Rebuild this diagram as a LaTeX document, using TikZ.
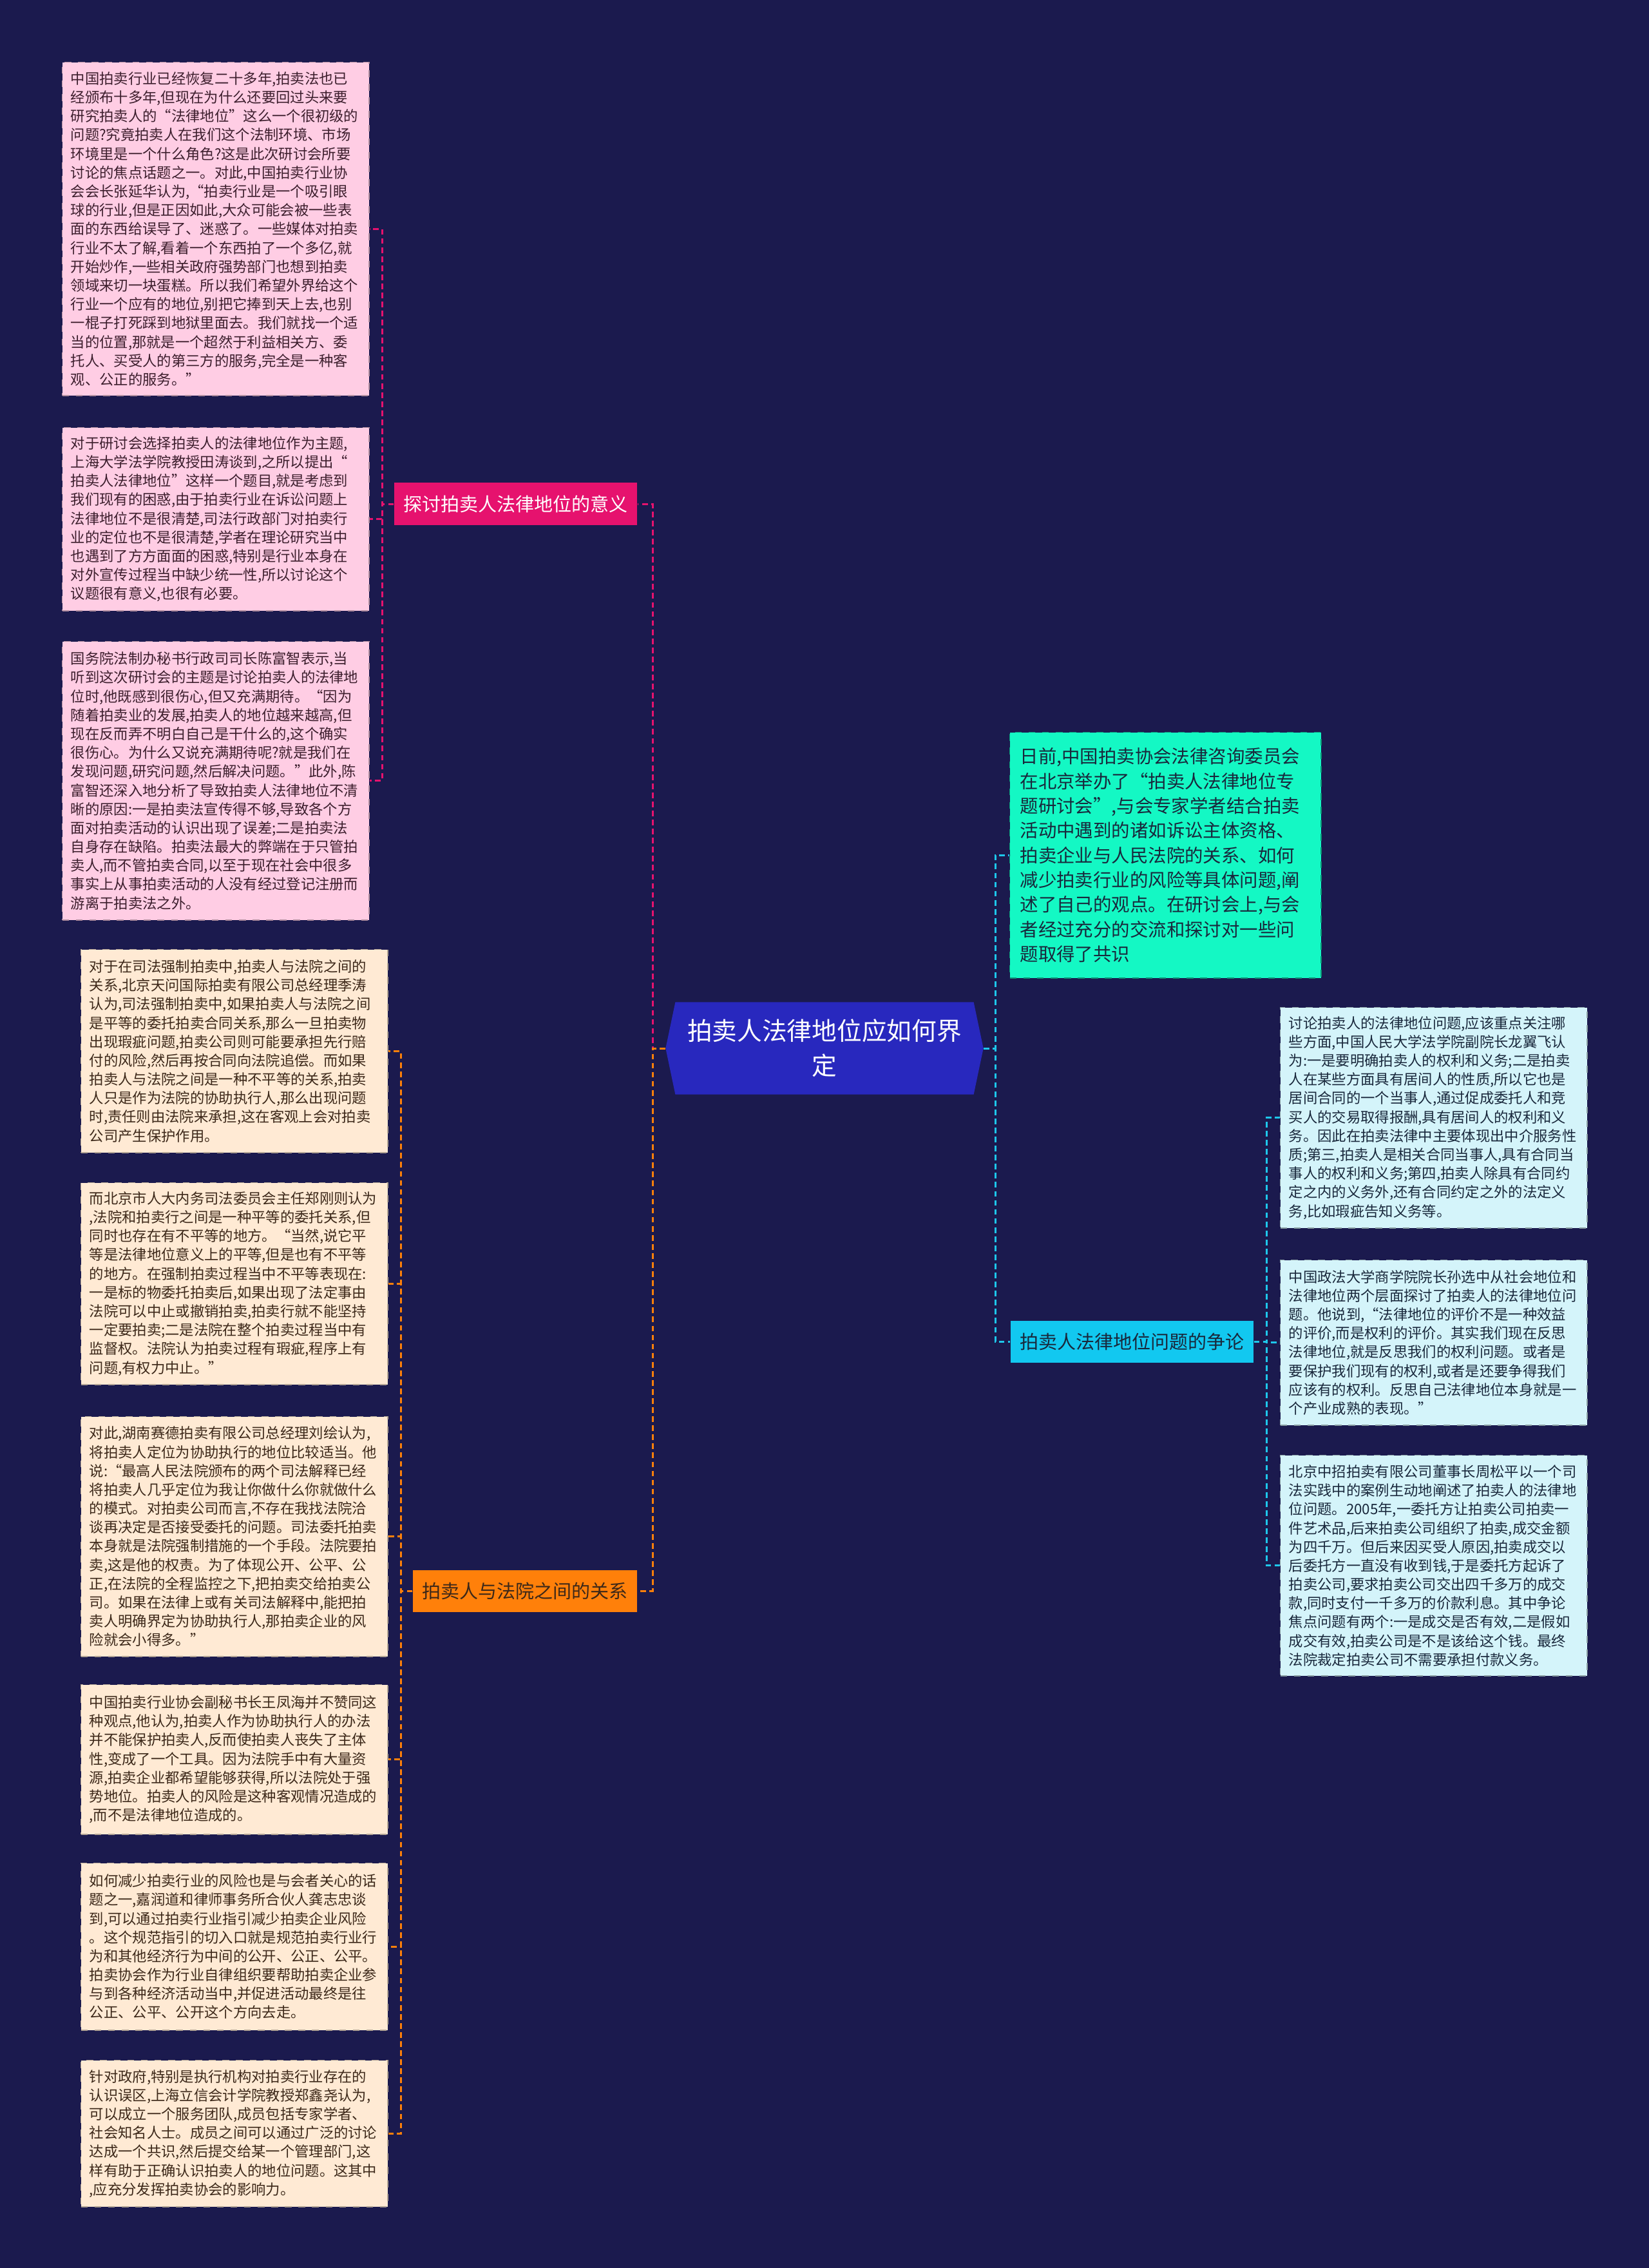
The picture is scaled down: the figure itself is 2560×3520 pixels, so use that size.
\documentclass[tikz,border=0pt]{standalone}
\usepackage{fontspec}
\setmainfont{Noto Sans CJK SC}
\usetikzlibrary{positioning, calc}
\definecolor{bgNavy}{RGB}{27,26,78}
\definecolor{rootBlue}{RGB}{40,40,190}
\definecolor{pinkHead}{RGB}{230,18,110}
\definecolor{pinkFill}{RGB}{255,205,228}
\definecolor{orangeHead}{RGB}{255,128,10}
\definecolor{orangeFill}{RGB}{255,234,212}
\definecolor{newsFill}{RGB}{20,248,196}
\definecolor{cyanHead}{RGB}{18,200,240}
\definecolor{cyanFill}{RGB}{212,244,250}
\definecolor{cyanLine}{RGB}{30,200,235}
\definecolor{inkPink}{RGB}{60,30,45}
\definecolor{inkBrown}{RGB}{60,40,25}
\definecolor{inkBlue}{RGB}{25,40,60}

\begin{document}
\begin{tikzpicture}[x=0.01cm, y=-0.01cm,
  leaf/.style={dashed, line width=0.4pt, anchor=north west, text width=4.5cm,
    inner xsep=0.13cm, inner ysep=0pt, align=left, font=\fontsize{6.35}{8.3}\selectfont},
  pinkbox/.style={leaf, fill=pinkFill, draw=pinkFill!70!black, text=inkPink},
  orangebox/.style={leaf, fill=orangeFill, draw=orangeFill!70!black, text=inkBrown},
  cyanbox/.style={leaf, fill=cyanFill, draw=cyanFill!65!black, text=inkBlue},
  topic/.style={minimum height=0.65cm, inner xsep=0.145cm, inner ysep=0pt,
    font=\fontsize{8.25}{10}\selectfont},
  root/.style={minimum width=4.93cm, minimum height=1.43cm, align=center, text=white,
    fill=bgNavy, font=\fontsize{11}{15.4}\selectfont,
    path picture={\fill[rootBlue] (path picture bounding box.west)
      -- ([xshift=0.15cm]path picture bounding box.north west)
      -- ([xshift=-0.15cm]path picture bounding box.north east)
      -- (path picture bounding box.east)
      -- ([xshift=-0.15cm]path picture bounding box.south east)
      -- ([xshift=0.15cm]path picture bounding box.south west) -- cycle;}},
  link/.style={dash pattern=on 2.5pt off 1.5pt, line width=0.85pt}]

  \fill[bgNavy] (0,0) rectangle (2560,3520);
  \useasboundingbox (0,0) rectangle (2560,3520);

  % centre
  \node[root] (root) at (1280,1627) {拍卖人法律地位应如何界\\定};

  % left, upper branch
  \node[topic, fill=pinkHead, text=white, anchor=east] (pinktopic) at (990,782) {探讨拍卖人法律地位的意义};
  \node[pinkbox, minimum height=5.17cm] (p1) at (96,96) {中国拍卖行业已经恢复二十多年,拍卖法也已\\
经颁布十多年,但现在为什么还要回过头来要\\
研究拍卖人的“法律地位”这么一个很初级的\\
问题?究竟拍卖人在我们这个法制环境、市场\\
环境里是一个什么角色?这是此次研讨会所要\\
讨论的焦点话题之一。对此,中国拍卖行业协\\
会会长张延华认为,“拍卖行业是一个吸引眼\\
球的行业,但是正因如此,大众可能会被一些表\\
面的东西给误导了、迷惑了。一些媒体对拍卖\\
行业不太了解,看着一个东西拍了一个多亿,就\\
开始炒作,一些相关政府强势部门也想到拍卖\\
领域来切一块蛋糕。所以我们希望外界给这个\\
行业一个应有的地位,别把它捧到天上去,也别\\
一棍子打死踩到地狱里面去。我们就找一个适\\
当的位置,那就是一个超然于利益相关方、委\\
托人、买受人的第三方的服务,完全是一种客\\
观、公正的服务。”};
  \node[pinkbox, minimum height=2.84cm] (p2) at (96,663) {对于研讨会选择拍卖人的法律地位作为主题,\\
上海大学法学院教授田涛谈到,之所以提出“\\
拍卖人法律地位”这样一个题目,就是考虑到\\
我们现有的困惑,由于拍卖行业在诉讼问题上\\
法律地位不是很清楚,司法行政部门对拍卖行\\
业的定位也不是很清楚,学者在理论研究当中\\
也遇到了方方面面的困惑,特别是行业本身在\\
对外宣传过程当中缺少统一性,所以讨论这个\\
议题很有意义,也很有必要。};
  \node[pinkbox, minimum height=4.32cm] (p3) at (96,995) {国务院法制办秘书行政司司长陈富智表示,当\\
听到这次研讨会的主题是讨论拍卖人的法律地\\
位时,他既感到很伤心,但又充满期待。“因为\\
随着拍卖业的发展,拍卖人的地位越来越高,但\\
现在反而弄不明白自己是干什么的,这个确实\\
很伤心。为什么又说充满期待呢?就是我们在\\
发现问题,研究问题,然后解决问题。”此外,陈\\
富智还深入地分析了导致拍卖人法律地位不清\\
晰的原因:一是拍卖法宣传得不够,导致各个方\\
面对拍卖活动的认识出现了误差;二是拍卖法\\
自身存在缺陷。拍卖法最大的弊端在于只管拍\\
卖人,而不管拍卖合同,以至于现在社会中很多\\
事实上从事拍卖活动的人没有经过登记注册而\\
游离于拍卖法之外。};

  % left, lower branch
  \node[topic, fill=orangeHead, text=inkBrown, anchor=east] (orangetopic) at (990,2469) {拍卖人与法院之间的关系};
  \node[orangebox, minimum height=3.15cm] (o1) at (125,1473) {对于在司法强制拍卖中,拍卖人与法院之间的\\
关系,北京天问国际拍卖有限公司总经理季涛\\
认为,司法强制拍卖中,如果拍卖人与法院之间\\
是平等的委托拍卖合同关系,那么一旦拍卖物\\
出现瑕疵问题,拍卖公司则可能要承担先行赔\\
付的风险,然后再按合同向法院追偿。而如果\\
拍卖人与法院之间是一种不平等的关系,拍卖\\
人只是作为法院的协助执行人,那么出现问题\\
时,责任则由法院来承担,这在客观上会对拍卖\\
公司产生保护作用。};
  \node[orangebox, minimum height=3.13cm] (o2) at (125,1835) {而北京市人大内务司法委员会主任郑刚则认为\\
,法院和拍卖行之间是一种平等的委托关系,但\\
同时也存在有不平等的地方。“当然,说它平\\
等是法律地位意义上的平等,但是也有不平等\\
的地方。在强制拍卖过程当中不平等表现在:\\
一是标的物委托拍卖后,如果出现了法定事由\\
法院可以中止或撤销拍卖,拍卖行就不能坚持\\
一定要拍卖;二是法院在整个拍卖过程当中有\\
监督权。法院认为拍卖过程有瑕疵,程序上有\\
问题,有权力中止。”};
  \node[orangebox, minimum height=3.72cm] (o3) at (125,2198) {对此,湖南赛德拍卖有限公司总经理刘绘认为,\\
将拍卖人定位为协助执行的地位比较适当。他\\
说:“最高人民法院颁布的两个司法解释已经\\
将拍卖人几乎定位为我让你做什么你就做什么\\
的模式。对拍卖公司而言,不存在我找法院洽\\
谈再决定是否接受委托的问题。司法委托拍卖\\
本身就是法院强制措施的一个手段。法院要拍\\
卖,这是他的权责。为了体现公开、公平、公\\
正,在法院的全程监控之下,把拍卖交给拍卖公\\
司。如果在法律上或有关司法解释中,能把拍\\
卖人明确界定为协助执行人,那拍卖企业的风\\
险就会小得多。”};
  \node[orangebox, minimum height=2.32cm] (o4) at (125,2614) {中国拍卖行业协会副秘书长王凤海并不赞同这\\
种观点,他认为,拍卖人作为协助执行人的办法\\
并不能保护拍卖人,反而使拍卖人丧失了主体\\
性,变成了一个工具。因为法院手中有大量资\\
源,拍卖企业都希望能够获得,所以法院处于强\\
势地位。拍卖人的风险是这种客观情况造成的\\
,而不是法律地位造成的。};
  \node[orangebox, minimum height=2.59cm] (o5) at (125,2891) {如何减少拍卖行业的风险也是与会者关心的话\\
题之一,嘉润道和律师事务所合伙人龚志忠谈\\
到,可以通过拍卖行业指引减少拍卖企业风险\\
。这个规范指引的切入口就是规范拍卖行业行\\
为和其他经济行为中间的公开、公正、公平。\\
拍卖协会作为行业自律组织要帮助拍卖企业参\\
与到各种经济活动当中,并促进活动最终是往\\
公正、公平、公开这个方向去走。};
  \node[orangebox, minimum height=2.27cm] (o6) at (125,3197) {针对政府,特别是执行机构对拍卖行业存在的\\
认识误区,上海立信会计学院教授郑鑫尧认为,\\
可以成立一个服务团队,成员包括专家学者、\\
社会知名人士。成员之间可以通过广泛的讨论\\
达成一个共识,然后提交给某一个管理部门,这\\
样有助于正确认识拍卖人的地位问题。这其中\\
,应充分发挥拍卖协会的影响力。};

  % right side
  \node[leaf, fill=newsFill, draw=newsFill!60!black, text=inkBlue, text width=4.51cm,
        inner xsep=0.16cm, minimum height=3.81cm, font=\fontsize{8.08}{10.9}\selectfont] (news) at (1567,1136) {日前,中国拍卖协会法律咨询委员会\\
在北京举办了“拍卖人法律地位专\\
题研讨会”,与会专家学者结合拍卖\\
活动中遇到的诸如诉讼主体资格、\\
拍卖企业与人民法院的关系、如何\\
减少拍卖行业的风险等具体问题,阐\\
述了自己的观点。在研讨会上,与会\\
者经过充分的交流和探讨对一些问\\
题取得了共识};
  \node[topic, fill=cyanHead, text=inkBlue, anchor=west] (disputetopic) at (1568,2082) {拍卖人法律地位问题的争论};
  \node[cyanbox, minimum height=3.42cm] (r1) at (1987,1563) {讨论拍卖人的法律地位问题,应该重点关注哪\\
些方面,中国人民大学法学院副院长龙翼飞认\\
为:一是要明确拍卖人的权利和义务;二是拍卖\\
人在某些方面具有居间人的性质,所以它也是\\
居间合同的一个当事人,通过促成委托人和竞\\
买人的交易取得报酬,具有居间人的权利和义\\
务。因此在拍卖法律中主要体现出中介服务性\\
质;第三,拍卖人是相关合同当事人,具有合同当\\
事人的权利和义务;第四,拍卖人除具有合同约\\
定之内的义务外,还有合同约定之外的法定义\\
务,比如瑕疵告知义务等。};
  \node[cyanbox, minimum height=2.56cm] (r2) at (1987,1955) {中国政法大学商学院院长孙选中从社会地位和\\
法律地位两个层面探讨了拍卖人的法律地位问\\
题。他说到,“法律地位的评价不是一种效益\\
的评价,而是权利的评价。其实我们现在反思\\
法律地位,就是反思我们的权利问题。或者是\\
要保护我们现有的权利,或者是还要争得我们\\
应该有的权利。反思自己法律地位本身就是一\\
个产业成熟的表现。”};
  \node[cyanbox, minimum height=3.42cm] (r3) at (1987,2258) {北京中招拍卖有限公司董事长周松平以一个司\\
法实践中的案例生动地阐述了拍卖人的法律地\\
位问题。2005年,一委托方让拍卖公司拍卖一\\
件艺术品,后来拍卖公司组织了拍卖,成交金额\\
为四千万。但后来因买受人原因,拍卖成交以\\
后委托方一直没有收到钱,于是委托方起诉了\\
拍卖公司,要求拍卖公司交出四千多万的成交\\
款,同时支付一千多万的价款利息。其中争论\\
焦点问题有两个:一是成交是否有效,二是假如\\
成交有效,拍卖公司是不是该给这个钱。最终\\
法院裁定拍卖公司不需要承担付款义务。};

  % connectors
  \coordinate (lbus) at (1013,1627);
  \coordinate (rbus) at (1545,1627);
  \coordinate (pbus) at (593,782);
  \coordinate (obus) at (622,2469);
  \coordinate (cbus) at (1966,2082);
  \draw[link, pinkHead] (root.west) -- (lbus) |- (pinktopic.east);
  \draw[link, orangeHead] (root.west) -- (lbus) |- (orangetopic.east);
  \draw[link, cyanLine] (root.east) -- (rbus) |- (news.west);
  \draw[link, cyanLine] (root.east) -- (rbus) |- (disputetopic.west);
  \foreach \n in {p1,p2,p3}
    \draw[link, pinkHead] (pinktopic.west) -- (pbus) |- (\n.east);
  \foreach \n in {o1,o2,o3,o4,o5,o6}
    \draw[link, orangeHead] (orangetopic.west) -- (obus) |- (\n.east);
  \foreach \n in {r1,r2,r3}
    \draw[link, cyanLine] (disputetopic.east) -- (cbus) |- (\n.west);
\end{tikzpicture}
\end{document}
